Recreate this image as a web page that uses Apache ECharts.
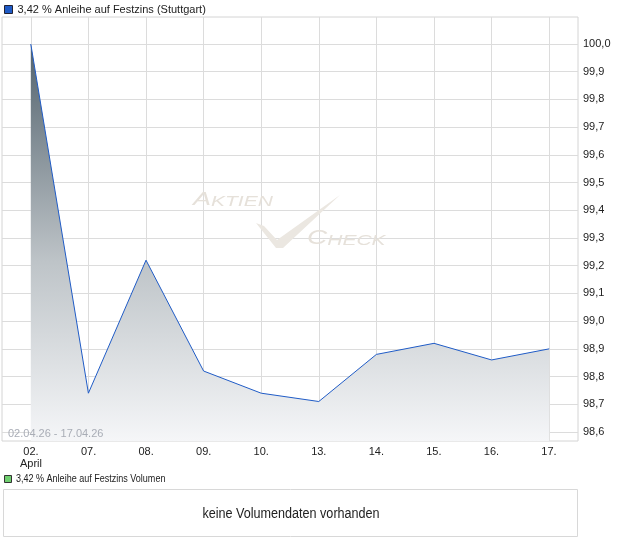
<!DOCTYPE html>
<html><head><meta charset="utf-8">
<script src="https://cdn.jsdelivr.net/npm/echarts@6/dist/echarts.min.js"></script>
<style>html,body{margin:0;padding:0;background:#fff}#c{width:620px;height:546px}</style>
</head><body><div id="c"></div>
<script>
const categories = ['02.', '07.', '08.', '09.', '10.', '13.', '14.', '15.', '16.', '17.'];
const monthLabel = 'April';
const prices = [100.0, 98.74, 99.22, 98.82, 98.74, 98.71, 98.88, 98.92, 98.86, 98.90];
const yTickMin = 98.6, yTickMax = 100.0, yTickStep = 0.1;
const plotMin = 98.5675, plotMax = 100.0975;
const seriesName = '3,42 % Anleihe auf Festzins (Stuttgart)';
const volumeName = '3,42 % Anleihe auf Festzins Volumen';
const rangeText = '02.04.26 - 17.04.26';
const noVolumeText = 'keine Volumendaten vorhanden';

const FONT = '"Liberation Sans", Arial, sans-serif';
const WM = '#e6e1da';
const chart = echarts.init(document.getElementById('c'), null, {renderer: 'canvas'});
chart.setOption({
  animation: false,
  textStyle: {fontFamily: FONT},
  legend: {
    left: 4, top: 4, padding: 0, itemWidth: 8, itemHeight: 8, itemGap: 4,
    icon: 'rect',
    selectedMode: false,
    data: [{name: seriesName, itemStyle: {color: '#1f5bc6', borderColor: '#223', borderWidth: 1}}],
    textStyle: {fontSize: 11, color: '#222', fontFamily: FONT}
  },
  grid: [
    {left: 2, right: 42, top: 17, bottom: 105, show: true, borderColor: '#d4d4d4', borderWidth: 1, backgroundColor: 'transparent'},
    {left: 31, right: 71, top: 17, bottom: 105},
    {left: 2, right: 42, top: 44, bottom: 114}
  ],
  xAxis: [
    {gridIndex: 0, type: 'category', data: categories, boundaryGap: true, show: false},
    {gridIndex: 1, type: 'category', data: categories, boundaryGap: false,
      axisLine: {show: false}, axisTick: {show: false},
      splitLine: {show: true, lineStyle: {color: '#dcdcdc', width: 1}},
      axisLabel: {show: true, margin: 5, fontSize: 11, color: '#222', fontFamily: FONT, lineHeight: 12,
        formatter: (v, i) => i === 0 ? v + '\n' + monthLabel : v}},
    {gridIndex: 2, type: 'category', data: categories, show: false}
  ],
  yAxis: [
    {gridIndex: 0, type: 'value', min: plotMin, max: plotMax, show: false},
    {gridIndex: 1, type: 'value', min: plotMin, max: plotMax, show: false},
    {gridIndex: 2, type: 'value', position: 'right', min: yTickMin, max: yTickMax, interval: yTickStep,
      axisLine: {show: false}, axisTick: {show: false},
      splitLine: {show: true, lineStyle: {color: '#dcdcdc', width: 1}},
      axisLabel: {show: true, margin: 5, fontSize: 11, color: '#222', fontFamily: FONT,
        formatter: v => v.toFixed(1).replace('.', ',')}}
  ],
  series: [{
    name: seriesName, type: 'line', xAxisIndex: 0, yAxisIndex: 0,
    data: prices, symbol: 'none', z: 5,
    itemStyle: {color: '#1f5bc6'},
    lineStyle: {color: '#1f5bc6', width: 1},
    areaStyle: {
      origin: 'start',
      color: new echarts.graphic.LinearGradient(0, 0, 0, 1, [
        {offset: 0, color: '#52626d'},
        {offset: 0.55, color: '#bec4c8'},
        {offset: 1, color: '#f5f6f8'}
      ]),
      opacity: 1
    }
  }],
  graphic: [
    {type: 'text', left: 8, top: 428, z: 10, style: {text: rangeText, fontSize: 11, fill: '#a9adb6', fontFamily: FONT}},
    {type: 'text', x: 193, y: 209, scaleX: 1.5, z: 1, style: {
      text: '{a|A}{b|KTIEN}', verticalAlign: 'bottom',
      rich: {a: {fontSize: 18, fontStyle: 'italic', fontFamily: FONT, fill: WM, verticalAlign: 'bottom'},
             b: {fontSize: 14, fontStyle: 'italic', fontFamily: FONT, fill: WM, verticalAlign: 'bottom'}}}},
    {type: 'text', x: 307, y: 248, scaleX: 1.4, z: 1, style: {
      text: '{a|C}{b|HECK}', verticalAlign: 'bottom',
      rich: {a: {fontSize: 20, fontStyle: 'italic', fontFamily: FONT, fill: WM, verticalAlign: 'bottom'},
             b: {fontSize: 15, fontStyle: 'italic', fontFamily: FONT, fill: WM, verticalAlign: 'bottom'}}}},
    {type: 'polygon', z: 1, shape: {points: [[256, 223], [264, 226], [277, 240], [340, 195], [283, 248], [276, 248]]}, style: {fill: '#ebe7e1'}},
    {type: 'rect', x: 4.5, y: 475.5, z: 10, shape: {width: 7, height: 7}, style: {fill: '#6fcf6f', stroke: '#333', lineWidth: 1}},
    {type: 'text', x: 16, y: 479, scaleX: 0.82, z: 10, style: {text: volumeName, fontSize: 11, fill: '#222', fontFamily: FONT, verticalAlign: 'middle'}},
    {type: 'rect', x: 3.5, y: 489.5, z: 10, shape: {width: 574, height: 47}, style: {fill: '#fff', stroke: '#d8d8d8', lineWidth: 1}},
    {type: 'text', x: 291, y: 514, scaleX: 0.9, z: 11, style: {text: noVolumeText, fontSize: 14, fill: '#222', fontFamily: FONT, align: 'center', verticalAlign: 'middle'}}
  ]
});
</script></body></html>
